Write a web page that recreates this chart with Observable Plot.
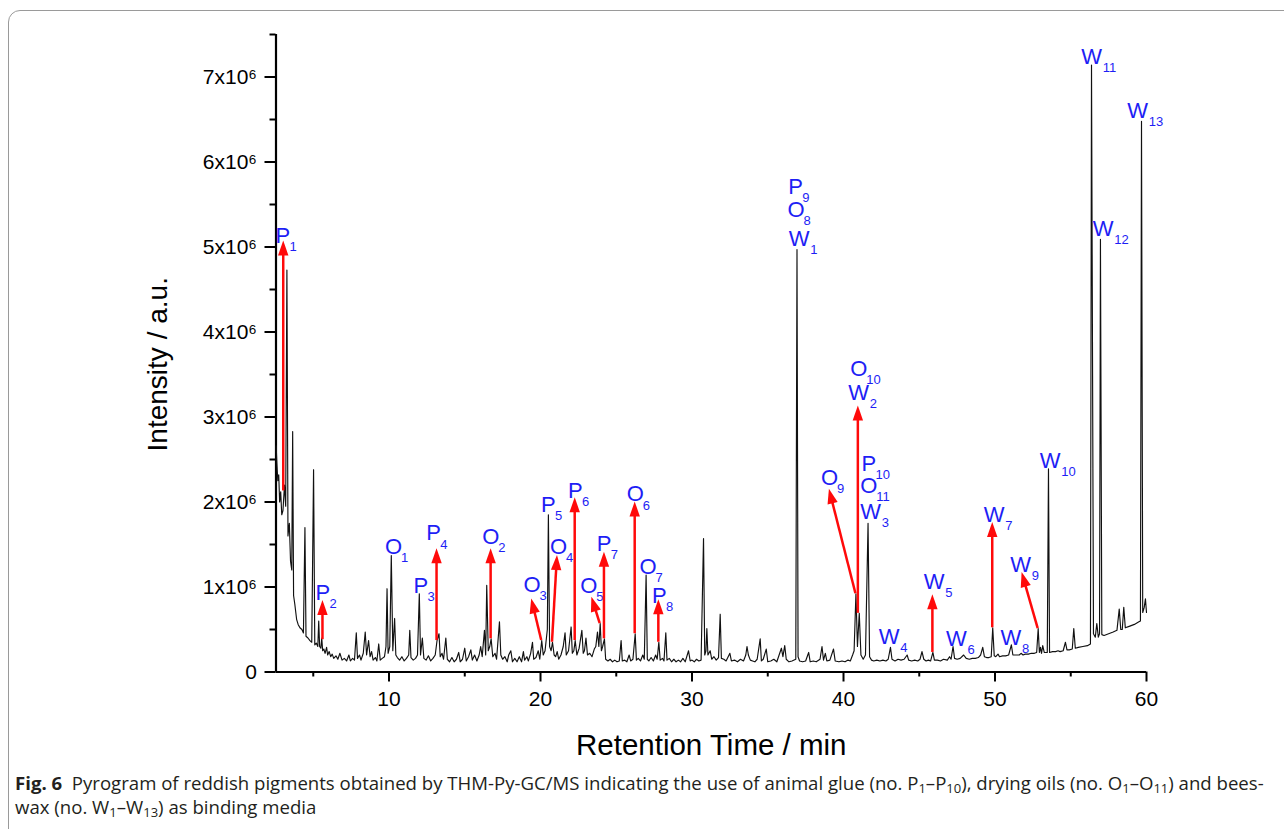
<!DOCTYPE html>
<html>
<head>
<meta charset="utf-8">
<script src="https://cdn.jsdelivr.net/npm/d3@7"></script>
<script src="https://cdn.jsdelivr.net/npm/@observablehq/plot@0.6"></script>
<style>
html, body { margin: 0; padding: 0; background: #fff; overflow: hidden; }
#frame { position: absolute; left: 8px; top: 10px; width: 1320px; height: 900px; border: 1px solid #9a9a9a; border-radius: 12px; }
#chart { position: absolute; left: 0; top: 0; }
#caption { position: absolute; left: 15px; top: 771px; width: 1266px; font-family: "Open Sans", "Noto Sans", sans-serif; font-size: 18.6px; line-height: 24px; color: #231f20; white-space: nowrap; }
#caption sub { font-size: 0.7em; vertical-align: -0.25em; line-height: 0; }
</style>
</head>
<body>
<div id="frame"></div>
<div id="chart"></div>
<div id="caption"><b>Fig. 6</b>&nbsp; Pyrogram of reddish pigments obtained by THM-Py-GC/MS indicating the use of animal glue (no. P<sub>1</sub>–P<sub>10</sub>), drying oils (no. O<sub>1</sub>–O<sub>11</sub>) and bees-<br>wax (no. W<sub>1</sub>–W<sub>13</sub>) as binding media</div>
<script>
// ---- Data (retention time in min, intensity in 10^6 a.u.) ----
const trace = [
[2.55,2.66],[2.6,2.45],[2.66,2.25],[2.72,2.32],[2.78,2.0],[2.85,2.12],[2.92,1.85],[3.0,1.9],[3.1,2.2],[3.18,1.95],[3.26,4.73],[3.33,1.6],[3.42,1.75],[3.5,1.3],[3.58,1.2],[3.64,2.83],[3.7,0.9],[3.78,0.8],[3.9,0.62],[4.0,0.56],[4.12,0.52],[4.25,0.5],[4.35,0.46],[4.45,1.70],[4.52,0.42],[4.65,0.4],[4.78,0.37],[4.9,0.35],[5.02,2.38],[5.1,0.32],[5.2,0.34],[5.3,0.3],[5.36,0.6],[5.42,0.3],[5.5,0.28],[5.56,0.4],[5.62,0.25],[5.7,0.27],[5.78,0.22],[5.88,0.29],[5.95,0.2],[6.05,0.24],[6.15,0.18],[6.25,0.21],[6.35,0.16],[6.5,0.19],[6.62,0.15],[6.76,0.22],[6.9,0.14],[7.05,0.16],[7.2,0.13],[7.35,0.2],[7.45,0.13],[7.6,0.16],[7.72,0.14],[7.84,0.46],[7.92,0.16],[8.05,0.2],[8.15,0.14],[8.3,0.22],[8.43,0.47],[8.52,0.2],[8.65,0.37],[8.75,0.18],[8.85,0.24],[8.95,0.14],[9.1,0.17],[9.2,0.13],[9.32,0.33],[9.42,0.14],[9.55,0.16],[9.7,0.18],[9.8,0.3],[9.87,0.98],[9.94,0.22],[10.05,0.3],[10.15,1.37],[10.25,0.25],[10.37,0.63],[10.45,0.2],[10.55,0.17],[10.7,0.14],[10.85,0.18],[11.0,0.13],[11.15,0.16],[11.3,0.2],[11.37,0.49],[11.45,0.17],[11.6,0.14],[11.75,0.16],[11.88,0.2],[12.0,0.92],[12.08,0.2],[12.2,0.4],[12.3,0.16],[12.45,0.14],[12.6,0.19],[12.75,0.13],[12.9,0.16],[13.05,0.2],[13.17,0.37],[13.3,0.45],[13.38,0.18],[13.5,0.22],[13.6,0.15],[13.75,0.4],[13.85,0.15],[14.0,0.12],[14.15,0.17],[14.3,0.12],[14.45,0.15],[14.6,0.23],[14.7,0.12],[14.85,0.15],[15.0,0.28],[15.1,0.13],[15.25,0.18],[15.4,0.26],[15.5,0.14],[15.65,0.2],[15.8,0.13],[15.95,0.2],[16.05,0.3],[16.15,0.18],[16.3,0.49],[16.38,0.2],[16.45,1.02],[16.55,0.25],[16.65,0.3],[16.74,0.39],[16.85,0.18],[17.0,0.22],[17.1,0.15],[17.29,0.59],[17.38,0.2],[17.5,0.15],[17.65,0.18],[17.8,0.12],[17.9,0.2],[18.04,0.25],[18.15,0.12],[18.3,0.16],[18.45,0.12],[18.6,0.18],[18.75,0.12],[18.87,0.24],[18.95,0.14],[19.1,0.18],[19.2,0.13],[19.35,0.22],[19.47,0.35],[19.55,0.15],[19.7,0.17],[19.85,0.25],[19.95,0.15],[20.08,0.37],[20.18,0.2],[20.3,0.25],[20.45,0.5],[20.52,1.85],[20.6,0.3],[20.7,0.25],[20.79,0.35],[20.9,0.2],[21.0,0.18],[21.1,0.24],[21.2,0.15],[21.35,0.2],[21.5,0.3],[21.62,0.46],[21.7,0.2],[21.85,0.25],[22.02,0.53],[22.1,0.22],[22.2,0.25],[22.29,0.37],[22.4,0.2],[22.55,0.28],[22.73,0.49],[22.82,0.22],[22.9,0.25],[23.0,0.4],[23.1,0.2],[23.25,0.22],[23.4,0.18],[23.55,0.27],[23.65,0.3],[23.76,0.47],[23.85,0.3],[23.94,0.57],[24.02,0.25],[24.1,0.3],[24.22,0.39],[24.3,0.15],[24.45,0.13],[24.6,0.15],[24.75,0.12],[24.9,0.14],[25.05,0.12],[25.2,0.13],[25.32,0.37],[25.4,0.13],[25.55,0.14],[25.7,0.12],[25.85,0.2],[25.95,0.13],[26.1,0.15],[26.25,0.45],[26.33,0.14],[26.45,0.16],[26.6,0.13],[26.75,0.2],[26.85,0.15],[26.97,1.14],[27.05,0.15],[27.15,0.13],[27.3,0.17],[27.45,0.13],[27.6,0.2],[27.7,0.15],[27.81,0.35],[27.9,0.14],[28.05,0.16],[28.15,0.13],[28.27,0.46],[28.35,0.14],[28.5,0.16],[28.65,0.12],[28.8,0.15],[28.95,0.12],[29.1,0.14],[29.25,0.12],[29.4,0.16],[29.55,0.12],[29.77,0.25],[29.88,0.13],[30.0,0.14],[30.15,0.12],[30.3,0.15],[30.45,0.13],[30.6,0.14],[30.76,1.57],[30.84,0.2],[30.92,0.25],[30.98,0.51],[31.05,0.2],[31.2,0.25],[31.3,0.15],[31.45,0.18],[31.6,0.14],[31.75,0.17],[31.86,0.68],[31.94,0.16],[32.1,0.15],[32.25,0.13],[32.5,0.22],[32.6,0.13],[32.8,0.14],[33.0,0.12],[33.2,0.15],[33.4,0.13],[33.55,0.2],[33.63,0.3],[33.72,0.2],[33.85,0.14],[34.0,0.13],[34.15,0.12],[34.3,0.15],[34.5,0.39],[34.58,0.13],[34.7,0.15],[34.9,0.27],[35.0,0.12],[35.2,0.13],[35.4,0.15],[35.6,0.12],[35.75,0.2],[35.9,0.28],[36.0,0.18],[36.12,0.31],[36.22,0.15],[36.4,0.12],[36.6,0.13],[36.85,0.15],[36.93,4.97],[37.0,0.18],[37.1,0.13],[37.3,0.12],[37.5,0.13],[37.7,0.23],[37.8,0.12],[38.0,0.13],[38.2,0.12],[38.45,0.15],[38.58,0.3],[38.68,0.14],[38.8,0.22],[38.9,0.13],[39.1,0.14],[39.34,0.27],[39.45,0.13],[39.7,0.12],[39.9,0.13],[40.1,0.12],[40.3,0.14],[40.45,0.13],[40.6,0.2],[40.7,0.25],[40.82,0.92],[40.92,0.3],[41.04,0.69],[41.15,0.2],[41.3,0.15],[41.45,0.2],[41.62,1.75],[41.72,0.18],[41.85,0.14],[42.0,0.13],[42.2,0.14],[42.4,0.13],[42.6,0.14],[42.8,0.13],[42.95,0.15],[43.1,0.29],[43.2,0.15],[43.4,0.13],[43.6,0.15],[43.8,0.14],[44.0,0.15],[44.2,0.2],[44.3,0.14],[44.5,0.13],[44.7,0.14],[44.9,0.13],[45.05,0.15],[45.18,0.24],[45.3,0.15],[45.45,0.13],[45.6,0.14],[45.75,0.13],[45.9,0.23],[46.0,0.14],[46.2,0.14],[46.4,0.13],[46.6,0.15],[46.85,0.14],[47.0,0.18],[47.1,0.15],[47.23,0.3],[47.33,0.16],[47.5,0.15],[47.7,0.16],[47.93,0.2],[48.1,0.16],[48.3,0.15],[48.5,0.16],[48.7,0.16],[48.9,0.17],[49.05,0.2],[49.19,0.29],[49.3,0.18],[49.45,0.17],[49.6,0.17],[49.75,0.18],[49.85,0.52],[49.95,0.19],[50.05,0.18],[50.2,0.21],[50.3,0.18],[50.5,0.19],[50.7,0.19],[50.9,0.2],[51.08,0.32],[51.18,0.2],[51.4,0.2],[51.6,0.2],[51.72,0.22],[51.85,0.2],[52.0,0.21],[52.2,0.21],[52.4,0.22],[52.6,0.22],[52.75,0.23],[52.85,0.51],[52.93,0.23],[53.0,0.29],[53.07,0.22],[53.15,0.31],[53.25,0.23],[53.45,0.23],[53.53,2.39],[53.6,0.23],[53.8,0.24],[54.0,0.24],[54.16,0.25],[54.3,0.24],[54.5,0.25],[54.65,0.35],[54.75,0.26],[54.9,0.26],[55.1,0.27],[55.2,0.51],[55.3,0.28],[55.5,0.29],[55.8,0.3],[56.1,0.31],[56.3,0.33],[56.37,7.14],[56.5,0.45],[56.62,0.41],[56.72,0.57],[56.82,0.41],[56.9,0.45],[56.96,5.09],[57.05,0.44],[57.2,0.43],[57.5,0.45],[57.8,0.47],[58.05,0.49],[58.2,0.74],[58.3,0.5],[58.4,0.5],[58.5,0.76],[58.6,0.52],[58.9,0.54],[59.2,0.56],[59.5,0.59],[59.6,0.6],[59.67,6.48],[59.75,0.7],[59.85,0.76],[59.93,0.86],[60.0,0.7]
];

const xMajorTicks = [10, 20, 30, 40, 50, 60];
const xMinorTicks = [5, 15, 25, 35, 45, 55];
const yMajorTicks = [0, 1, 2, 3, 4, 5, 6, 7];
const yMinorTicks = [0.5, 1.5, 2.5, 3.5, 4.5, 5.5, 6.5, 7.5];

// Peak labels: letter, subscript, anchor time, anchor intensity
const labelLetter = ["P","P","P","P","P","P","P","P","P","P","O","O","O","O","O","O","O","O","O","O","O","W","W","W","W","W","W","W","W","W","W","W","W","W"];
const labelSub    = ["1","2","3","4","5","6","7","8","9","10","1","2","3","4","5","6","7","8","9","10","11","1","2","3","4","5","6","7","8","9","10","11","12","13"];
const labelT = [2.50,5.14,11.62,12.46,20.03,21.81,23.72,27.36,36.36,41.19, 9.74,16.16,18.87,20.63,22.62,25.70,26.53,36.30,38.51,40.45,41.11, 36.38,40.32,41.11,42.32,45.29,46.77,49.25,50.36,51.00,52.95,55.69,56.45,58.73];
const labelI = [5.13,0.93,1.01,1.63,1.97,2.13,1.51,0.90,5.71,2.45, 1.47,1.59,1.02,1.47,1.01,2.09,1.24,5.44,2.28,3.57,2.19, 5.10,3.28,1.88,0.41,1.06,0.39,1.85,0.40,1.26,2.48,7.24,5.21,6.60];

// Red arrows: base (time, intensity) -> tip (time, intensity)
const arrowBaseT = [3.05,5.64,13.17,16.74,20.08,20.79,22.29,23.94,24.22,26.25,27.81,40.82,40.98,45.90,49.85,52.85];
const arrowBaseI = [2.13,0.38,0.37,0.39,0.37,0.35,0.37,0.57,0.39,0.45,0.35,0.92,0.69,0.23,0.52,0.51];
const arrowTipT  = [3.05,5.64,13.17,16.74,19.42,21.12,22.29,23.39,24.22,26.25,27.81,39.07,40.98,45.90,49.85,51.79];
const arrowTipI  = [5.07,0.84,1.45,1.45,0.86,1.37,2.05,0.88,1.41,2.00,0.85,2.15,3.13,0.91,1.76,1.17];

// ---- Build ----
const labels = labelLetter.map((l, k) => ({letter: l, sub: labelSub[k], t: labelT[k], i: labelI[k]}));
const subDx = {P: 14, O: 16, W: 21.5};
const BLUE = "#1e1ef5";
const RED = "#ff0a0a";
const yFmt = d => d === 0 ? "0" : `${d}x10\u2076`;

const chart = Plot.plot({
  width: 1284,
  height: 770,
  marginLeft: 275.5,
  marginRight: 138,
  marginTop: 34,
  marginBottom: 98.5,
  x: {domain: [2.54, 60]},
  y: {domain: [0, 7.5]},
  style: {fontFamily: "'Liberation Sans', Arial, sans-serif", background: "transparent", color: "#000", overflow: "visible"},
  marks: [
    Plot.axisX({ticks: xMajorTicks, tickSize: 10, tickPadding: 9, fontSize: 21, label: null, strokeWidth: 2}),
    Plot.axisX({ticks: xMinorTicks, tickSize: 5, tickFormat: () => "", label: null, strokeWidth: 2}),
    Plot.axisY({ticks: yMajorTicks, tickSize: 11, tickPadding: 8, fontSize: 21, tickFormat: yFmt, label: null, strokeWidth: 2}),
    Plot.axisY({ticks: yMinorTicks, tickSize: 6, tickFormat: () => "", label: null, strokeWidth: 2}),
    Plot.ruleX([2.54], {strokeWidth: 2.2}),
    Plot.ruleY([0], {strokeWidth: 2.2}),
    Plot.line(trace, {x: d => d[0], y: d => d[1], stroke: "#111", strokeWidth: 1.15}),
    Plot.text(["Retention Time / min"], {frameAnchor: "bottom", lineAnchor: "middle", dy: 73.5, fontSize: 29.5, fill: "#000"}),
    Plot.text(["Intensity / a.u."], {frameAnchor: "left", textAnchor: "middle", lineAnchor: "middle", dx: -118, dy: 11, rotate: -90, fontSize: 28, fill: "#000"}),
    Plot.text(labels, {x: "t", y: "i", text: "letter", textAnchor: "start", fontSize: 22, fill: BLUE}),
    ...["P", "O", "W"].map(L => Plot.text(labels.filter(d => d.letter === L), {x: "t", y: "i", text: "sub", textAnchor: "start", dx: subDx[L], dy: 11, fontSize: 13, fill: BLUE}))
  ]
});

// arrows drawn through the plot's own scales
const sx = chart.scale("x"), sy = chart.scale("y");
const X = sx.apply ? v => sx.apply(v) : d3.scaleLinear(sx.domain, sx.range);
const Y = sy.apply ? v => sy.apply(v) : d3.scaleLinear(sy.domain, sy.range);
const g = d3.select(chart).append("g");
arrowBaseT.forEach((_, k) => {
  const x1 = X(arrowBaseT[k]), y1 = Y(arrowBaseI[k]);
  const x2 = X(arrowTipT[k]), y2 = Y(arrowTipI[k]);
  const dx = x2 - x1, dy = y2 - y1, L = Math.hypot(dx, dy);
  const ux = dx / L, uy = dy / L;
  const hl = 15, hw = 5.2;
  const bx = x2 - ux * hl, by = y2 - uy * hl;
  g.append("line").attr("x1", x1).attr("y1", y1).attr("x2", bx + ux * 2).attr("y2", by + uy * 2)
    .attr("stroke", RED).attr("stroke-width", 2.5);
  g.append("path").attr("d", `M${x2},${y2}L${bx - uy * hw},${by + ux * hw}L${bx + uy * hw},${by - ux * hw}Z`)
    .attr("fill", RED);
});

document.getElementById("chart").appendChild(chart);
</script>
</body>
</html>
